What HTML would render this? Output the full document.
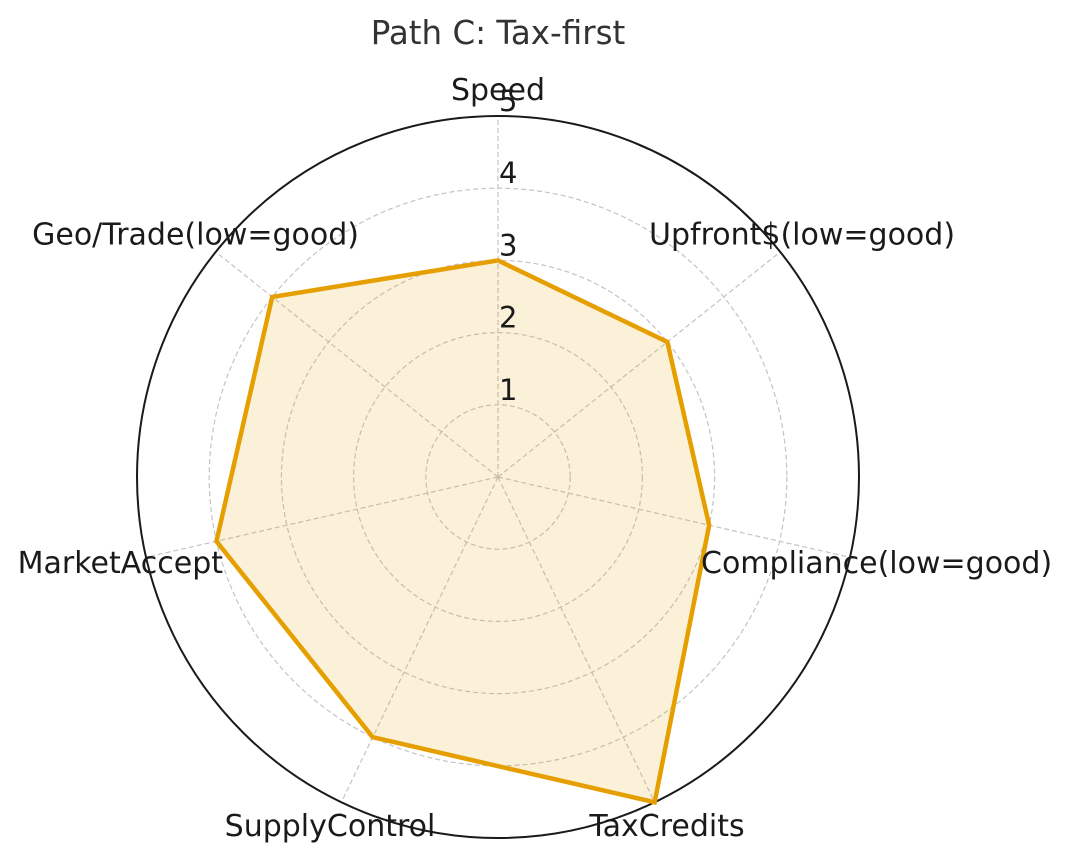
<!DOCTYPE html>
<html><head><meta charset="utf-8"><style>
html,body{margin:0;padding:0;background:#fff;}
svg{display:block;font-family:"DejaVu Sans","Liberation Sans",sans-serif;}
</style></head><body>
<svg id="chart" width="1070" height="859" viewBox="0 0 1070 859">
<text x="498" y="44" text-anchor="middle" font-size="32.5" fill="#333">Path C: Tax-first</text>
<g id="grid"></g><g id="series"></g><g id="labels"></g>
</svg>
<script>
const categories = ["Speed","Upfront$(low=good)","Compliance(low=good)","TaxCredits","SupplyControl","MarketAccept","Geo/Trade(low=good)"];
const values = [3,3,3,5,4,4,4];
const ticks = [1,2,3,4,5];
const maxV = 5;
const cx=498, cy=477, R=361;
const NS="http://www.w3.org/2000/svg";
function rScale(v){return v/maxV*R;}
function ang(i){return -Math.PI/2 + i*2*Math.PI/categories.length;}
function pt(i,v){const a=ang(i);return [cx+rScale(v)*Math.cos(a), cy+rScale(v)*Math.sin(a)];}
function mk(tag,attrs,parent){const e=document.createElementNS(NS,tag);for(const k in attrs)e.setAttribute(k,attrs[k]);parent.appendChild(e);return e;}
const grid=document.getElementById('grid'), ser=document.getElementById('series'), lab=document.getElementById('labels');
ticks.forEach(t=>{
  if(t<maxV){
    const c=mk('circle',{cx:cx,cy:cy,r:rScale(t),fill:'none',stroke:'#c4c4c4','stroke-width':1.2,'stroke-dasharray':'5,3'},grid);
    
    
  }
});
categories.forEach((c,i)=>{
  const p=pt(i,maxV);
  const l=mk('line',{x1:cx,y1:cy,x2:p[0],y2:p[1],stroke:'#c4c4c4','stroke-width':1.2,'stroke-dasharray':'5,3'},grid);
  
  
});
const outer=mk('circle',{cx:cx,cy:cy,r:R,fill:'none',stroke:'#1a1a1a','stroke-width':2},grid);


const pts=values.map((v,i)=>pt(i,v).join(',')).join(' ');
const poly=mk('polygon',{points:pts,fill:'#e69f00','fill-opacity':0.15,stroke:'#e69f00','stroke-width':4.5,'stroke-linejoin':'miter'},ser);


ticks.forEach(t=>{
  const tx=mk('text',{x:cx+1,y:cy-rScale(t)-5,'font-size':29,fill:'#1a1a1a'},lab);
  tx.textContent=t;
  
  
});
categories.forEach((c,i)=>{
  const a=ang(i); const rr=R+25;
  let x=cx+rr*Math.cos(a), y=cy+rr*Math.sin(a);
  const cs=Math.cos(a);
  let anchor = Math.abs(cs)<0.1?'middle':(cs>0?'start':'end');
  if(i===0){y=cy-R-26;}
  if(i===3||i===4){anchor='middle';y=cy+R-12;x=cx+(i===3?169:-168);}
  if(i===1||i===6){y=cy+rr*Math.sin(a)-2;x=cx+(i===1?151:-139);}
  if(i===2||i===5){y=cy+rr*Math.sin(a);x=cx+(i===2?203:-275);}
  const tx=mk('text',{x:x,y:y+10,'text-anchor':anchor,'font-size':30,fill:'#1a1a1a'},lab);
  tx.textContent=c;
  
  
});
</script>
</body></html>
